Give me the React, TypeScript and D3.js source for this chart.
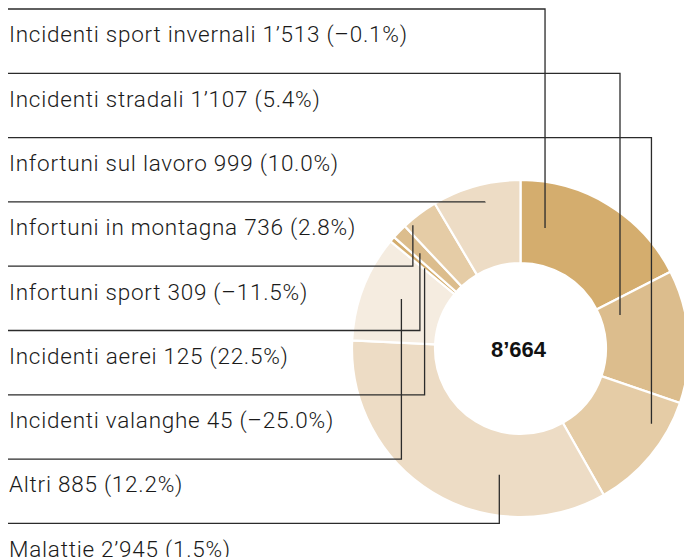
import React from "react";
import * as d3 from "d3";

// ---- data (label order, top to bottom) ----
const categories = [
  "Incidenti sport invernali",
  "Incidenti stradali",
  "Infortuni sul lavoro",
  "Infortuni in montagna",
  "Infortuni sport",
  "Incidenti aerei",
  "Incidenti valanghe",
  "Altri",
  "Malattie",
];
const values = [1513, 1107, 999, 736, 309, 125, 45, 885, 2945];
const changes = ["–0.1", "5.4", "10.0", "2.8", "–11.5", "22.5", "–25.0", "12.2", "1.5"];
const totalLabel = "8’664";

// clockwise order of the slices from 12 o'clock
const pieOrder = [
  "Incidenti sport invernali",
  "Incidenti stradali",
  "Infortuni sul lavoro",
  "Malattie",
  "Altri",
  "Incidenti valanghe",
  "Incidenti aerei",
  "Infortuni sport",
  "Infortuni in montagna",
];

// ---- styling / layout ----
const W = 684;
const H = 557;
const cx = 520.5;
const cy = 348.5;
const rOuter = 168.5;
const rInner = 85.5;
const sliceColors: Record<string, string> = {
  "Incidenti sport invernali": "#d4ad6e",
  "Incidenti stradali": "#dcbd8d",
  "Infortuni sul lavoro": "#e5cca6",
  "Malattie": "#eddcc5",
  "Altri": "#f5ece0",
  "Incidenti valanghe": "#d4ad6e",
  "Incidenti aerei": "#dcbd8d",
  "Infortuni sport": "#e5cca6",
  "Infortuni in montagna": "#eddcc5",
};
// leader anchor: fraction of the slice's angle span, radius from centre
const leaderAnchor: Record<string, [number, number]> = {
  "Incidenti sport invernali": [0.183, 123],
  "Incidenti stradali": [0.185, 105],
  "Infortuni sul lavoro": [0.265, 151],
  "Infortuni in montagna": [0.556, 151],
  "Infortuni sport": [0.18, 163.7],
  "Incidenti aerei": [0.4, 138.6],
  "Incidenti valanghe": [0.2, 125],
  "Altri": [0.54, 129],
  "Malattie": [0.32, 128],
};
const lineX0 = 8;
const textX = 9;
const baselineOffset = 33.3;
const FONT = "'Roboto', 'Liberation Sans', Arial, sans-serif";

function fmt(v: number) {
  const s = String(v);
  return s.length > 3 ? s.slice(0, s.length - 3) + "’" + s.slice(s.length - 3) : s;
}

export default function App() {
  const valueByName: Record<string, number> = {};
  categories.forEach((c, i) => (valueByName[c] = values[i]));

  const pie = d3
    .pie<string>()
    .sort(null)
    .value((d) => valueByName[d]);
  const arcs = pie(pieOrder);
  const arcGen = d3
    .arc<d3.PieArcDatum<string>>()
    .innerRadius(rInner)
    .outerRadius(rOuter);

  const arcByName: Record<string, d3.PieArcDatum<string>> = {};
  arcs.forEach((a) => (arcByName[a.data] = a));

  const y = d3
    .scalePoint<string>()
    .domain(categories)
    .range([9, 523.4]);

  return (
    <svg
      width={W}
      height={H}
      style={{ position: "absolute", left: 0, top: 0, background: "#fff" }}
    >
      <g transform={`translate(${cx},${cy})`}>
        {arcs.map((a) => (
          <path
            key={a.data}
            d={arcGen(a) || ""}
            fill={sliceColors[a.data]}
            stroke="#fff"
            strokeWidth={2.2}
          />
        ))}
      </g>
      <text
        x={cx - 2}
        y={cy + 8}
        textAnchor="middle"
        fontFamily="'Liberation Sans', Arial, sans-serif"
        fontWeight={700}
        fontSize={22}
        fill="#111"
      >
        {totalLabel}
      </text>
      {categories.map((c, i) => {
        const a = arcByName[c];
        const [t, r] = leaderAnchor[c];
        const ang = a.startAngle + t * (a.endAngle - a.startAngle);
        const ax = cx + r * Math.sin(ang);
        const ay = cy - r * Math.cos(ang);
        const ly = y(c) as number;
        return (
          <g key={c}>
            <path
              d={`M${lineX0},${ly}H${ax}V${ay}`}
              fill="none"
              stroke="#2b2b2b"
              strokeWidth={1.3}
            />
            <text
              x={textX}
              y={ly + baselineOffset}
              fontFamily={FONT}
              fontWeight={300}
              fontSize={22.5}
              letterSpacing={0.75}
              fill="#1a1a1a"
            >
              {`${c} ${fmt(values[i])} (${changes[i]}%)`}
            </text>
          </g>
        );
      })}
    </svg>
  );
}
